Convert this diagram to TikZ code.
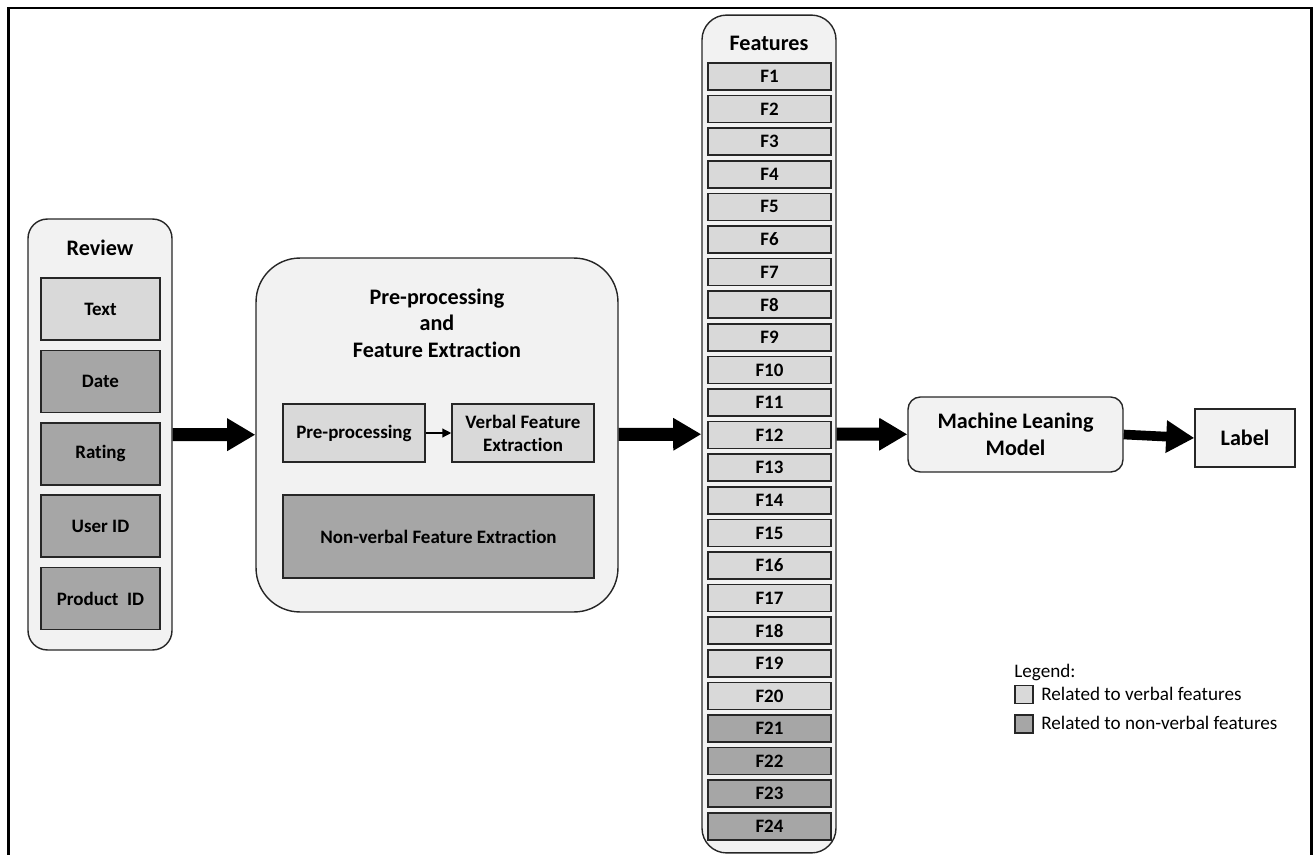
\documentclass[tikz,border=0pt]{standalone}
\usepackage{fontspec}
\setmainfont{Carlito}[Ligatures=NoCommon]
\usetikzlibrary{arrows.meta}

\newcommand\headfont{\fontsize{12.6}{15.1}\selectfont\bfseries}
\newcommand\itemfont{\fontsize{10.8}{13}\selectfont\bfseries}
\newcommand\legfont{\fontsize{10.9}{12.6}\selectfont}

\begin{document}
\begin{tikzpicture}[
	x=0.02cm, y=-0.02cm,
	frame/.style={ draw, line width=1.7pt },
	panel/.style={ draw=black!85, fill=black!5, line width=0.8pt, inner sep=0pt },
	boxv/.style={ draw=black!85, fill=black!15, line width=0.9pt, inner sep=0pt, align=center, font=\itemfont },
	boxn/.style={ boxv, fill=black!35 },
	head/.style={ font=\headfont, align=center },
	flow/.style={ line width=7.4pt, -{Triangle[length=16pt,width=17.5pt]} }
]

\useasboundingbox (0,0) rectangle (1315,855);
\draw[frame] (8.5,855) -- (8.5,8) -- (1311.5,8) -- (1311.5,855);

% review
\node at (100,434.5) (review) [panel,rounded corners=11pt,minimum width=2.88cm,minimum height=8.62cm] {};
\node at (100,248) (reviewt) [head] {Review};
\node at (100.5,309) (text) [boxv,minimum width=2.38cm,minimum height=1.24cm] {Text};
\node at (100.5,381.4) (date) [boxn,minimum width=2.38cm,minimum height=1.24cm] {Date};
\node at (100.5,453.8) (rating) [boxn,minimum width=2.38cm,minimum height=1.24cm] {Rating};
\node at (100.5,526.2) (user) [boxn,minimum width=2.38cm,minimum height=1.24cm] {User ID};
\node at (100.5,598.6) (product) [boxn,minimum width=2.38cm,minimum height=1.24cm] {Product\ \ ID};

% pre-processing and feature extraction
\node at (437,435) (prep) [panel,rounded corners=25pt,minimum width=7.24cm,minimum height=7.08cm] {};
\node at (437,323) (prept) [head] {Pre-processing\\and\\Feature Extraction};
\node at (354,433) (pre) [boxv,minimum width=2.84cm,minimum height=1.16cm] {Pre-processing};
\node at (523,433) (verbal) [boxv,minimum width=2.84cm,minimum height=1.16cm] {Verbal Feature\\Extraction};
\draw[-{Triangle[length=5pt,width=5pt]},line width=0.7pt] (pre) to (verbal);
\node at (438.5,536.5) (nonverbal) [boxn,minimum width=6.22cm,minimum height=1.66cm] {Non-verbal Feature Extraction};
\draw[flow] (review) to (prep);

% features
\node at (769,434) (feat) [panel,rounded corners=14pt,minimum width=2.68cm,minimum height=16.76cm] {};
\node at (769,43) (featt) [head] {Features};
\foreach \i in {1,...,20}
	\node at (769.5,{76.5+(\i-1)*32.6}) (f\i) [boxv,minimum width=2.46cm,minimum height=0.54cm] {F\i};
\foreach \i in {21,...,24}
	\node at (769.5,{76.5+(\i-1)*32.6}) (f\i) [boxn,minimum width=2.46cm,minimum height=0.54cm] {F\i};
\draw[flow] (prep) to (feat);

% model and label
\node at (1015.5,434.5) (model) [panel,head,rounded corners=7pt,minimum width=4.3cm,minimum height=1.5cm] {Machine Leaning\\Model};
\draw[flow] (feat) to (model);
\node at (1245,438) (label) [panel,head,minimum width=2cm,minimum height=1.16cm] {Label};
\draw[flow,line width=5.5pt] (model.east) to (label.west);

% legend
\node at (1014,672) (legt) [anchor=west,inner sep=0pt,font=\legfont] {Legend:};
\node at (1024,694.5) (legv) [boxv,line width=0.8pt,minimum size=0.36cm] {};
\node at (1041,694) (legvt) [anchor=west,inner sep=0pt,font=\legfont] {Related to verbal features};
\node at (1024,724) (legn) [boxn,line width=0.8pt,minimum size=0.36cm] {};
\node at (1041,723) (legnt) [anchor=west,inner sep=0pt,font=\legfont] {Related to non-verbal features};

\end{tikzpicture}
\end{document}
